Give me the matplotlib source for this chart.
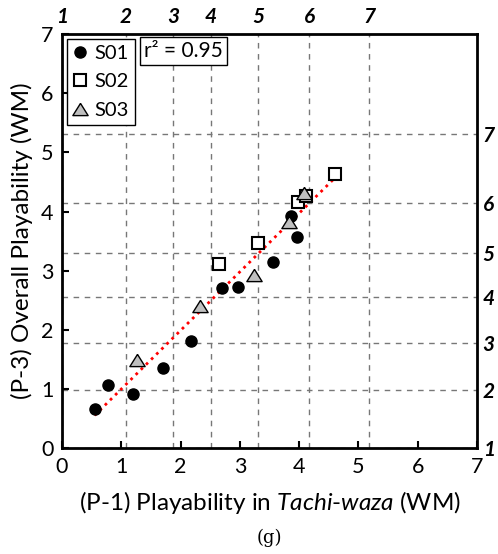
import numpy as np
import matplotlib.pyplot as plt
from matplotlib.lines import Line2D

# ---------------- data ----------------
s01_x = [0.55, 0.77, 1.19, 1.71, 2.17, 2.70, 2.96, 3.56, 3.86, 3.97]
s01_y = [0.66, 1.07, 0.91, 1.35, 1.81, 2.70, 2.72, 3.14, 3.92, 3.57]
s02_x = [2.65, 3.31, 3.98, 4.11, 4.60]
s02_y = [3.12, 3.47, 4.16, 4.27, 4.63]
s03_x = [1.26, 2.32, 3.23, 3.82, 4.08]
s03_y = [1.49, 2.40, 2.93, 3.83, 4.31]

# secondary (raw score) scale positions on the WM axes
raw_labels = ["1", "2", "3", "4", "5", "6", "7"]
raw_x_pos = [0, 1.08, 1.88, 2.51, 3.31, 4.17, 5.18]
raw_y_pos = [0, 0.99, 1.77, 2.56, 3.30, 4.15, 5.31]

r2_text = "r² = 0.95"

plt.rcParams["font.family"] = ["Lato", "DejaVu Sans"]
plt.rcParams["mathtext.fontset"] = "custom"
plt.rcParams["mathtext.rm"] = "Lato"
plt.rcParams["mathtext.it"] = "Lato:italic"

fig = plt.figure(figsize=(4.98, 5.54), dpi=100)
ax = fig.add_axes([0.1245, 0.191, 0.8335, 0.7475])

ax.set_xlim(0, 7)
ax.set_ylim(0, 7)
ax.set_xticks(range(8))
ax.set_yticks(range(8))
ax.tick_params(direction="in", length=5, width=1.5, labelsize=15.5, pad=6)
for sp in ax.spines.values():
    sp.set_linewidth(2)

# grid lines from secondary scale
ax_top = ax.twiny()
ax_top.set_xlim(0, 7)
ax_top.set_xticks(raw_x_pos)
ax_top.set_xticklabels(raw_labels, fontweight="bold", fontstyle="italic", fontsize=15)
ax_top.tick_params(length=0, pad=5)
ax_top.grid(True, axis="x", color="#777777", linestyle=(0, (4, 4)), linewidth=1)

ax_r = ax.twinx()
ax_r.set_ylim(0, 7)
ax_r.set_yticks(raw_y_pos)
ax_r.set_yticklabels(raw_labels, fontweight="bold", fontstyle="italic", fontsize=15)
ax_r.tick_params(length=0, pad=4)
ax_r.grid(True, axis="y", color="#777777", linestyle=(0, (4, 4)), linewidth=1)
for a in (ax_top, ax_r):
    for sp in a.spines.values():
        sp.set_visible(False)
    a.set_zorder(0)
ax.set_zorder(2)
ax.patch.set_visible(False)

# trend line (least squares over all points)
all_x = np.array(s01_x + s02_x + s03_x)
all_y = np.array(s01_y + s02_y + s03_y)
k, b = np.polyfit(all_x, all_y, 1)
xx = np.array([all_x.min(), all_x.max()])
ax.plot(xx, k * xx + b, color="red", linestyle=(0, (1, 1.6)), linewidth=2, zorder=2)

tri = [(0, 0.8), (-1, -0.8), (1, -0.8), (0, 0.8)]
ax.plot(s01_x, s01_y, "o", color="black", markersize=8, linestyle="none", zorder=3)
ax.plot(s02_x, s02_y, "s", markerfacecolor="white", markeredgecolor="black",
        markeredgewidth=1.5, markersize=9, linestyle="none", zorder=3)
ax.plot(s03_x, s03_y, marker=tri, markerfacecolor="#BFBFBF", markeredgecolor="black",
        markeredgewidth=1, markersize=11, linestyle="none", zorder=3)

handles = [
    Line2D([], [], marker="o", color="black", markersize=8, linestyle="none"),
    Line2D([], [], marker="s", markerfacecolor="white", markeredgecolor="black",
           markeredgewidth=1.5, markersize=9, linestyle="none"),
    Line2D([], [], marker=tri, markerfacecolor="#BFBFBF", markeredgecolor="black",
           markeredgewidth=1, markersize=11, linestyle="none"),
]
leg = ax.legend(handles, ["S01", "S02", "S03"], loc="upper left", fontsize=14.5,
                frameon=True, fancybox=False, edgecolor="black", framealpha=1,
                borderaxespad=0.25, handletextpad=0.35, labelspacing=0.55,
                borderpad=0.3, handlelength=0.7)
leg.get_frame().set_linewidth(1)

ax.text(1.38, 6.88, r2_text, fontsize=15, ha="left", va="top",
        bbox=dict(boxstyle="square,pad=0.2", facecolor="white", edgecolor="black", linewidth=1),
        zorder=5)

ax.set_xlabel("(P-1) Playability in $\\it{Tachi}$-$\\it{waza}$ (WM)", fontsize=17.5, labelpad=9)
ax.set_ylabel("(P-3) Overall Playability (WM)", fontsize=17.5, labelpad=6)

fig.text(0.541, 0.012, "(g)", fontsize=13, family="DejaVu Serif", ha="center", va="bottom")

fig.savefig("out.png", dpi=100)
